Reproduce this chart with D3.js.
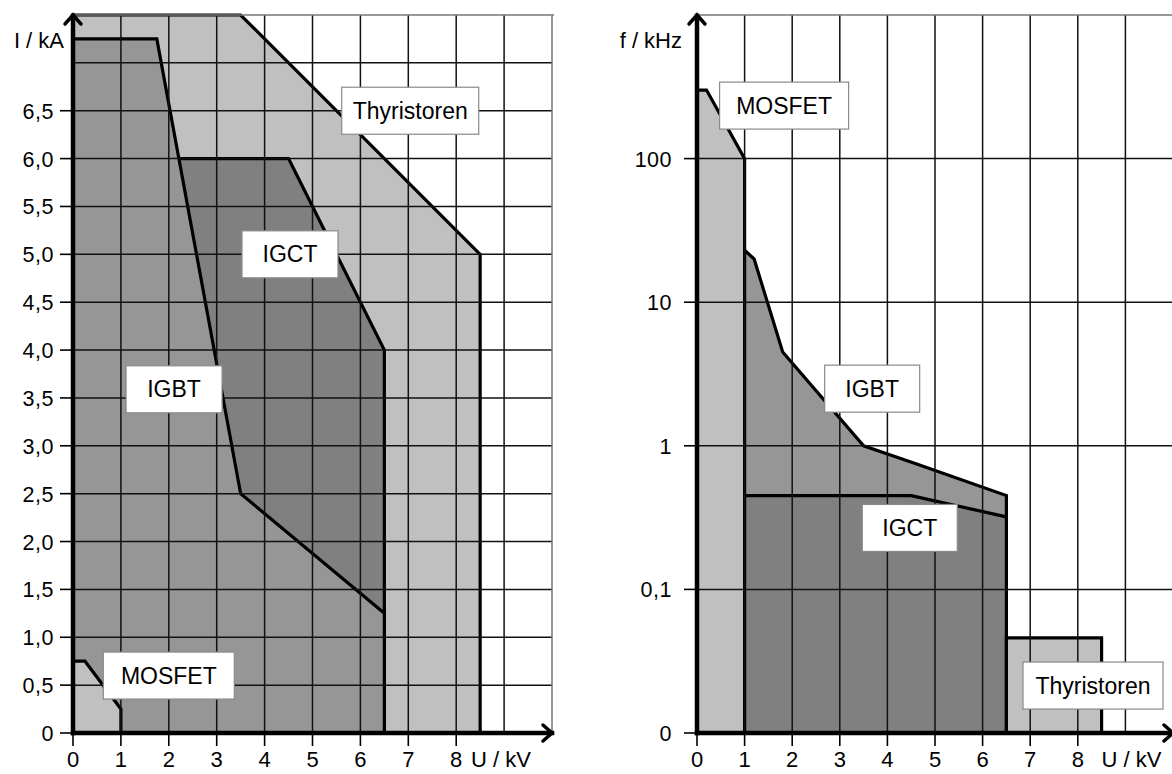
<!DOCTYPE html>
<html>
<head>
<meta charset="utf-8">
<script src="https://cdn.jsdelivr.net/npm/d3@7"></script>
<style>
  body { margin: 0; background: #fff; }
  svg { display: block; }
  text { font-family: "Liberation Sans", Arial, sans-serif; fill: #000; }
</style>
</head>
<body>
<div id="chart"></div>
<script>
// Axis ticks
const uTicks = [0, 1, 2, 3, 4, 5, 6, 7, 8];
const uGrid = [1, 2, 3, 4, 5, 6, 7, 8, 9];
const iTicks = [0, 0.5, 1, 1.5, 2, 2.5, 3, 3.5, 4, 4.5, 5, 5.5, 6, 6.5];
const iTickLabels = ['0', '0,5', '1,0', '1,5', '2,0', '2,5', '3,0', '3,5', '4,0', '4,5', '5,0', '5,5', '6,0', '6,5'];
const iGrid = [0.5, 1, 1.5, 2, 2.5, 3, 3.5, 4, 4.5, 5, 5.5, 6, 6.5, 7];
const fTicks = [0.01, 0.1, 1, 10, 100];
const fTickLabels = ['0', '0,1', '1', '10', '100'];

// Left chart: current I / kA over voltage U / kV
const thyristorI = [[0, 0], [0, 7.5], [3.5, 7.5], [8.5, 5.0], [8.5, 0]];
const igctI = [[0, 0], [0, 6.0], [4.5, 6.0], [6.5, 4.0], [6.5, 0]];
const igbtI = [[0, 0], [0, 7.25], [1.75, 7.25], [3.5, 2.5], [6.5, 1.25], [6.5, 0]];
const mosfetI = [[0, 0], [0, 0.75], [0.25, 0.75], [1.0, 0.25], [1.0, 0]];

// Right chart: frequency f / kHz over voltage U / kV ("0" stands for 0.01)
const mosfetF = [[0, 0.01], [0, 300], [0.2, 300], [1.0, 100], [1.0, 0.01]];
const igbtF = [[1.0, 0.01], [1.0, 23], [1.2, 20], [1.8, 4.5], [3.5, 1.0], [4.6, 0.75], [6.5, 0.45], [6.5, 0.01]];
const igctF = [[1.0, 0.01], [1.0, 0.45], [4.5, 0.45], [6.5, 0.32], [6.5, 0.01]];
const thyristorF = [[6.5, 0.01], [6.5, 0.046], [8.5, 0.046], [8.5, 0.01]];

const W = 1172, H = 774;
const svg = d3.select('#chart').append('svg')
    .attr('width', W)
    .attr('height', H);

const LIGHT = '#c0c0c0', MID = '#969696', DARK = '#808080';

function drawChart(opt) {
    const g = svg.append('g');
    const x = opt.x, y = opt.y;
    const x0 = x.range()[0], y0 = y.range()[0];
    const yTop = y.range()[1];
    const xEnd = x.range()[1];

    // filled areas with outlines, back to front
    const line = d3.line().x(d => x(d[0])).y(d => y(d[1]));
    opt.areas.forEach(a => {
        g.append('path')
            .attr('d', line(a.pts) + 'Z')
            .attr('fill', a.color)
            .attr('stroke', '#000')
            .attr('stroke-width', 3.2)
            .attr('stroke-linejoin', 'miter');
    });

    // grid
    const grid = g.append('g').attr('stroke', '#111').attr('stroke-width', 1.5);
    uGrid.forEach(u => {
        grid.append('line')
            .attr('x1', x(u)).attr('x2', x(u))
            .attr('y1', y0).attr('y2', yTop);
    });
    opt.yGrid.forEach(v => {
        grid.append('line')
            .attr('x1', x0).attr('x2', xEnd)
            .attr('y1', y(v)).attr('y2', y(v));
    });
    // outer border
    g.append('line')
        .attr('x1', x0).attr('x2', xEnd + 2)
        .attr('y1', yTop).attr('y2', yTop)
        .attr('stroke', '#777').attr('stroke-width', 1.5);
    g.append('line')
        .attr('x1', xEnd).attr('x2', xEnd)
        .attr('y1', yTop).attr('y2', y0)
        .attr('stroke', '#777').attr('stroke-width', 1.5);

    // tick marks and labels
    uTicks.forEach(u => {
        g.append('line')
            .attr('x1', x(u)).attr('x2', x(u))
            .attr('y1', y0).attr('y2', y0 + 13)
            .attr('stroke', '#000').attr('stroke-width', 1.6);
        g.append('text')
            .attr('x', x(u)).attr('y', y0 + 34)
            .attr('text-anchor', 'middle')
            .attr('font-size', 22)
            .text(u);
    });
    opt.yTicks.forEach((v, i) => {
        g.append('line')
            .attr('x1', x0 - 13).attr('x2', x0)
            .attr('y1', y(v)).attr('y2', y(v))
            .attr('stroke', '#000').attr('stroke-width', 1.6);
        g.append('text')
            .attr('x', x0 - opt.labelGap).attr('y', y(v) + 8)
            .attr('text-anchor', 'end')
            .attr('font-size', 21.5)
            .attr('letter-spacing', 0.5)
            .text(opt.yTickLabels[i]);
    });

    // axes with arrow heads
    const ax = g.append('g')
        .attr('stroke', '#000')
        .attr('stroke-width', 4.5)
        .attr('fill', 'none')
        .attr('stroke-linecap', 'square');
    ax.append('line')
        .attr('x1', x0).attr('x2', x0)
        .attr('y1', y0).attr('y2', yTop + 1);
    ax.append('line')
        .attr('x1', x0).attr('x2', xEnd)
        .attr('y1', y0).attr('y2', y0);
    ax.append('path')
        .attr('stroke-width', 3.5)
        .attr('stroke-linecap', 'round')
        .attr('d', `M${x0 - 8},${yTop + 9}L${x0},${yTop}L${x0 + 8},${yTop + 9}`);
    ax.append('path')
        .attr('stroke-width', 3.5)
        .attr('stroke-linecap', 'round')
        .attr('d', `M${xEnd - 9},${y0 - 8}L${xEnd},${y0}L${xEnd - 9},${y0 + 8}`);

    // axis titles
    g.append('text')
        .attr('x', opt.yTitleX).attr('y', yTop + 33)
        .attr('text-anchor', 'end')
        .attr('font-size', 22)
        .text(opt.yTitle);
    g.append('text')
        .attr('x', x(opt.uTitleAt)).attr('y', y0 + 34)
        .attr('font-size', 22)
        .text('U / kV');

    // labels in boxes
    opt.labels.forEach(l => {
        const cx = x(l.u), cy = y(l.v);
        g.append('rect')
            .attr('x', cx - l.w / 2).attr('y', cy - 23.5)
            .attr('width', l.w).attr('height', 47)
            .attr('fill', '#fff')
            .attr('stroke', '#8a8a8a')
            .attr('stroke-width', 1.2);
        g.append('text')
            .attr('x', cx).attr('y', cy + 8)
            .attr('text-anchor', 'middle')
            .attr('font-size', 23)
            .text(l.text);
    });
}

// Left chart
drawChart({
    x: d3.scaleLinear().domain([0, 10]).range([73, 552]),
    y: d3.scaleLinear().domain([0, 7.5]).range([733, 15]),
    areas: [
        { pts: thyristorI, color: LIGHT },
        { pts: igctI, color: DARK },
        { pts: igbtI, color: MID },
        { pts: mosfetI, color: LIGHT }
    ],
    yGrid: iGrid,
    yTicks: iTicks,
    yTickLabels: iTickLabels,
    labelGap: 19,
    yTitle: 'I / kA',
    yTitleX: 64,
    uTitleAt: 8.31,
    labels: [
        { text: 'Thyristoren', u: 7.04, v: 6.5, w: 137 },
        { text: 'IGCT', u: 4.53, v: 5.0, w: 96 },
        { text: 'IGBT', u: 2.11, v: 3.59, w: 96 },
        { text: 'MOSFET', u: 2.0, v: 0.6, w: 131 }
    ]
});

// Right chart
drawChart({
    x: d3.scaleLinear().domain([0, 10]).range([697, 1173]),
    y: d3.scaleLog().domain([0.01, 1000]).range([733, 15]),
    areas: [
        { pts: mosfetF, color: LIGHT },
        { pts: igbtF, color: MID },
        { pts: igctF, color: DARK },
        { pts: thyristorF, color: LIGHT }
    ],
    yGrid: [0.1, 1, 10, 100],
    yTicks: fTicks,
    yTickLabels: fTickLabels,
    labelGap: 25,
    yTitle: 'f / kHz',
    yTitleX: 682,
    uTitleAt: 8.5,
    labels: [
        { text: 'MOSFET', u: 1.83, v: 234, w: 129 },
        { text: 'IGBT', u: 3.68, v: 2.5, w: 95 },
        { text: 'IGCT', u: 4.47, v: 0.268, w: 95 },
        { text: 'Thyristoren', u: 8.32, v: 0.0214, w: 140 }
    ]
});
</script>
</body>
</html>
